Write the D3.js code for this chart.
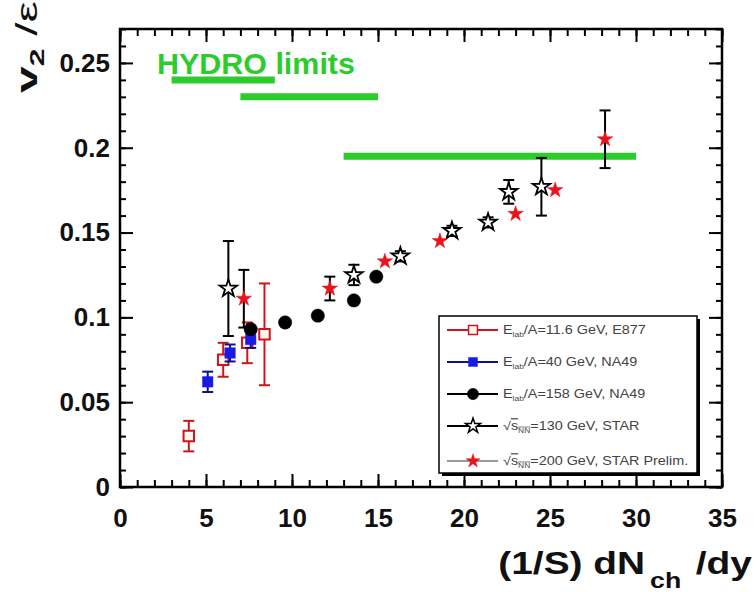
<!DOCTYPE html>
<html>
<head>
<meta charset="utf-8">
<script src="https://cdn.jsdelivr.net/npm/d3@7"></script>
<style>
  html, body { margin: 0; padding: 0; background: #fff; }
  svg { display: block; }
</style>
</head>
<body>
<script>
// v2/epsilon versus (1/S) dNch/dy for several beam energies

const e877X   = [4.0, 6.0, 7.4, 8.4];
const e877Y   = [0.030, 0.075, 0.085, 0.090];
const e877Err = [0.009, 0.010, 0.012, 0.030];

const na49_40X   = [5.1, 6.4, 7.6];
const na49_40Y   = [0.062, 0.079, 0.087];
const na49_40Err = [0.006, 0.005, 0.005];

const na49_158X = [7.6, 9.6, 11.5, 13.6, 14.9];
const na49_158Y = [0.093, 0.097, 0.101, 0.110, 0.124];

const star130X   = [6.3, 13.6, 16.3, 19.3, 21.4, 22.6, 24.5];
const star130Y   = [0.117, 0.125, 0.136, 0.151, 0.156, 0.174, 0.177];
const star130Err = [0.028, 0.006, 0.003, 0.003, 0.003, 0.007, 0.017];

const star200X   = [7.2, 12.2, 15.4, 18.6, 23.0, 25.3, 28.2];
const star200Y   = [0.111, 0.117, 0.133, 0.145, 0.161, 0.175, 0.205];
const star200Err = [0.017, 0.007, 0, 0, 0, 0, 0.017];

// hydrodynamic limit bands: [xStart, xEnd, value]
const hydroStart = [3, 7, 13];
const hydroEnd   = [9, 15, 30];
const hydroVal   = [0.240, 0.230, 0.195];

const xTicks = [0, 5, 10, 15, 20, 25, 30, 35];
const xTickLabels = ["0", "5", "10", "15", "20", "25", "30", "35"];
const yTicks = [0, 0.05, 0.1, 0.15, 0.2, 0.25];
const yTickLabels = ["0", "0.05", "0.1", "0.15", "0.2", "0.25"];

const W = 756, H = 592;
const FONT = "'Liberation Sans', Arial, sans-serif";

const svg = d3.select("body").append("svg")
  .attr("width", W).attr("height", H)
  .style("font-family", FONT);

const x = d3.scaleLinear().domain([0, 35]).range([120, 722]);
const y = d3.scaleLinear().domain([0, 0.27]).range([487, 29]);

const x0 = x.range()[0], x1 = x.range()[1];
const y0 = y.range()[0], y1 = y.range()[1];

// stretch a text horizontally about anchor ax so that it spans `width` px
function fitWidth(g, width, ax) {
  const w = g.node().getBBox().width;
  const s = width / w;
  g.attr("transform", `translate(${ax},0) scale(${s},1) translate(${-ax},0)`);
}

// axes with inward ticks on all four sides
const xMinor = d3.range(0, 35.01, 1);
const yMinor = d3.range(0, 0.2701, 0.01);

function styleAxis(g) {
  g.select(".domain").remove();
  g.selectAll(".tick line").attr("stroke", "#000").attr("stroke-width", 2);
}

svg.append("g").attr("transform", `translate(0,${y0})`)
  .call(d3.axisBottom(x).tickValues(xMinor).tickSize(-7).tickFormat(""))
  .call(styleAxis);
svg.append("g").attr("transform", `translate(0,${y0})`)
  .call(d3.axisBottom(x).tickValues(xTicks).tickSize(-13).tickPadding(22)
        .tickFormat((d, i) => xTickLabels[i]))
  .call(styleAxis)
  .call(g => g.selectAll("text").attr("font-size", 26).attr("font-weight", "bold")
        .attr("fill", "#111").attr("font-family", FONT).attr("dy", "0.71em"));

svg.append("g").attr("transform", `translate(0,${y1})`)
  .call(d3.axisTop(x).tickValues(xMinor).tickSize(-7).tickFormat(""))
  .call(styleAxis);
svg.append("g").attr("transform", `translate(0,${y1})`)
  .call(d3.axisTop(x).tickValues(xTicks).tickSize(-13).tickFormat(""))
  .call(styleAxis);

svg.append("g").attr("transform", `translate(${x0},0)`)
  .call(d3.axisLeft(y).tickValues(yMinor).tickSize(-6).tickFormat(""))
  .call(styleAxis);
svg.append("g").attr("transform", `translate(${x0},0)`)
  .call(d3.axisLeft(y).tickValues(yTicks).tickSize(-13).tickPadding(10)
        .tickFormat((d, i) => yTickLabels[i]))
  .call(styleAxis)
  .call(g => g.selectAll("text").attr("font-size", 26).attr("font-weight", "bold")
        .attr("fill", "#111").attr("font-family", FONT));

svg.append("g").attr("transform", `translate(${x1},0)`)
  .call(d3.axisRight(y).tickValues(yMinor).tickSize(-6).tickFormat(""))
  .call(styleAxis);
svg.append("g").attr("transform", `translate(${x1},0)`)
  .call(d3.axisRight(y).tickValues(yTicks).tickSize(-13).tickFormat(""))
  .call(styleAxis);

// frame
svg.append("rect")
  .attr("x", x0).attr("y", y1).attr("width", x1 - x0).attr("height", y0 - y1)
  .attr("fill", "none").attr("stroke", "#000").attr("stroke-width", 2.5);

// hydro limits
const green = "#2ccc2c";
svg.append("g").selectAll("line")
  .data(hydroVal).join("line")
  .attr("x1", (d, i) => x(hydroStart[i]))
  .attr("x2", (d, i) => x(hydroEnd[i]))
  .attr("y1", d => y(d)).attr("y2", d => y(d))
  .attr("stroke", green).attr("stroke-width", 7);

const hydroG = svg.append("g");
hydroG.append("text")
  .attr("x", 157).attr("y", 74)
  .attr("font-size", 30).attr("font-weight", "bold")
  .attr("fill", green)
  .text("HYDRO limits");
fitWidth(hydroG, 198, 157);

// error bars
function errorBars(xs, ys, es, color) {
  const g = svg.append("g").attr("stroke", color).attr("stroke-width", 2).attr("fill", "none");
  xs.forEach((xv, i) => {
    const e = es[i];
    if (!e) return;
    const cx = x(xv), top = y(ys[i] + e), bot = y(ys[i] - e);
    g.append("line").attr("x1", cx).attr("x2", cx).attr("y1", top).attr("y2", bot);
    g.append("line").attr("x1", cx - 5.5).attr("x2", cx + 5.5).attr("y1", top).attr("y2", top);
    g.append("line").attr("x1", cx - 5.5).attr("x2", cx + 5.5).attr("y1", bot).attr("y2", bot);
  });
}

const symSquare = d3.symbol().type(d3.symbolSquare);
const symCircle = d3.symbol().type(d3.symbolCircle);
const symStar = d3.symbol().type(d3.symbolStar);

function markers(xs, ys, path, fill, stroke, sw) {
  svg.append("g").selectAll("path")
    .data(xs).join("path")
    .attr("transform", (d, i) => `translate(${x(d)},${y(ys[i])})`)
    .attr("d", path)
    .attr("fill", fill).attr("stroke", stroke).attr("stroke-width", sw);
}

const red = "#e8141c", blue = "#1a1ae6";

errorBars(e877X, e877Y, e877Err, "#d0141c");
markers(e877X, e877Y, symSquare.size(110)(), "#fff8ee", "#d0141c", 2);

errorBars(na49_40X, na49_40Y, na49_40Err, "#10108a");
markers(na49_40X, na49_40Y, symSquare.size(110)(), blue, blue, 0.5);

markers(na49_158X, na49_158Y, symCircle.size(140)(), "#000", "#000", 0.5);

errorBars(star130X, star130Y, star130Err, "#000");
markers(star130X, star130Y, symStar.size(95)(), "#fff", "#000", 1.8);

errorBars(star200X, star200Y, star200Err, "#000");
markers(star200X, star200Y, symStar.size(75)(), red, red, 0.5);

// legend
const lg = svg.append("g");
const lx = 439, ly = 316, lw = 258, lh = 157;
lg.append("rect").attr("x", lx + 3).attr("y", ly + 3).attr("width", lw).attr("height", lh).attr("fill", "#000");
lg.append("rect").attr("x", lx).attr("y", ly).attr("width", lw).attr("height", lh)
  .attr("fill", "#fff").attr("stroke", "#000").attr("stroke-width", 1.5);

const legendRows = [
  { line: "#d0141c", sym: symSquare.size(80)(), fill: "#fff8ee", stroke: "#d0141c", sw: 1.5 },
  { line: "#10108a", sym: symSquare.size(80)(), fill: blue, stroke: blue, sw: 0.5 },
  { line: "#000", sym: symCircle.size(100)(), fill: "#000", stroke: "#000", sw: 0.5 },
  { line: "#000", sym: symStar.size(70)(), fill: "#fff", stroke: "#000", sw: 1.5 },
  { line: "#999", sym: symStar.size(60)(), fill: red, stroke: red, sw: 0.5 }
];
const legendYs = [330, 362, 394, 426, 461];

legendRows.forEach((r, i) => {
  const cy = legendYs[i];
  lg.append("line").attr("x1", 447).attr("x2", 498).attr("y1", cy).attr("y2", cy)
    .attr("stroke", r.line).attr("stroke-width", 2);
  lg.append("path").attr("transform", `translate(473,${cy})`).attr("d", r.sym)
    .attr("fill", r.fill).attr("stroke", r.stroke).attr("stroke-width", r.sw);
});

function legendText(i) {
  return lg.append("g").attr("transform", "translate(503,0) scale(1.2,1) translate(-503,0)")
    .append("text").attr("x", 503).attr("y", legendYs[i] + 4)
    .attr("font-size", 12).attr("fill", "#444");
}
function elab(t, rest) {
  t.append("tspan").text("E");
  t.append("tspan").attr("font-size", 7).attr("dy", 3).text("lab");
  t.append("tspan").attr("dy", -3).text(rest);
}
function sqrts(t, rest) {
  t.append("tspan").text("√");
  t.append("tspan").attr("text-decoration", "overline").text("s");
  t.append("tspan").attr("font-size", 7).attr("dy", 3).attr("text-decoration", "overline").text("NN");
  t.append("tspan").attr("dy", -3).text(rest);
}
elab(legendText(0), "/A=11.6 GeV, E877");
elab(legendText(1), "/A=40 GeV, NA49");
elab(legendText(2), "/A=158 GeV, NA49");
sqrts(legendText(3), "=130 GeV, STAR");
sqrts(legendText(4), "=200 GeV, STAR Prelim.");

// y axis title, rotated
const ytG = svg.append("g").attr("transform", "translate(37,93) rotate(-90)");
const ytInner = ytG.append("g");
const yt = ytInner.append("text")
  .attr("x", 0).attr("y", 0)
  .attr("font-size", 30).attr("font-weight", "bold").attr("fill", "#111");
yt.append("tspan").text("v");
yt.append("tspan").attr("font-size", 20).attr("dy", 7).text("2");
yt.append("tspan").attr("dy", -7).attr("dx", 8).attr("font-weight", "normal").text("/ε");
fitWidth(ytInner, 92, 0);

// x axis title
const xtG = svg.append("g");
const xt = xtG.append("text")
  .attr("x", 752).attr("y", 574).attr("text-anchor", "end")
  .attr("font-size", 32).attr("font-weight", "bold").attr("fill", "#111");
xt.append("tspan").text("(1/S) dN");
xt.append("tspan").attr("font-size", 22).attr("dy", 14).attr("dx", 4).text("ch");
xt.append("tspan").attr("dy", -14).attr("dx", 12).text("/dy");
fitWidth(xtG, 254, 752);
</script>
</body>
</html>
